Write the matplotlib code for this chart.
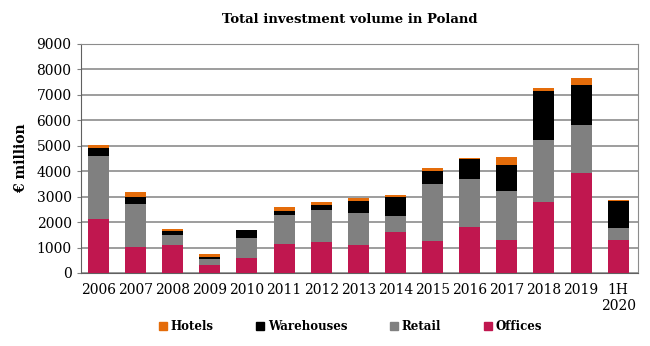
import numpy as np
import matplotlib.pyplot as plt
from matplotlib.patches import Patch

years = ['2006', '2007', '2008', '2009', '2010', '2011', '2012', '2013',
         '2014', '2015', '2016', '2017', '2018', '2019', '1H\n2020']
offices = [2130, 1040, 1100, 300, 600, 1140, 1210, 1090, 1630, 1250, 1800, 1300, 2780, 3940, 1300]
retail = [2480, 1690, 380, 260, 770, 1130, 1270, 1250, 610, 2260, 1910, 1910, 2450, 1880, 450]
warehouses = [290, 250, 170, 50, 300, 180, 200, 480, 750, 480, 760, 1020, 1930, 1580, 1070]
hotels = [120, 200, 90, 130, 20, 130, 120, 130, 80, 130, 40, 340, 120, 250, 65]

series = [('Offices', offices, '#C0174F'), ('Retail', retail, '#808080'),
          ('Warehouses', warehouses, '#000000'), ('Hotels', hotels, '#E46C0A')]

plt.rcParams['font.family'] = ['DejaVu Serif']

fig = plt.figure(figsize=(6.5, 3.46), dpi=100)
ax = fig.add_axes([0.124, 0.211, 0.857, 0.662])

x = np.arange(len(years))
bottom = np.zeros(len(years))
for name, vals, col in series:
    ax.bar(x, vals, 0.565, bottom=bottom, color=col, zorder=3)
    bottom += np.array(vals)

ax.set_xlim(-0.48, 14.525)
ax.set_ylim(0, 9000)
ax.set_yticks(range(0, 9001, 1000))
ax.set_xticks(x)
ax.set_xticklabels(years, fontsize=10)
ax.tick_params(axis='y', labelsize=10, length=3, color='#808080')
ax.tick_params(axis='x', length=0, pad=7)
ax.grid(axis='y', color='#8c8c8c', linewidth=1.2, zorder=0)
for s in ['top', 'right']:
    ax.spines[s].set_color('#8c8c8c')
for s in ['left', 'bottom']:
    ax.spines[s].set_color('#606060')
ax.set_ylabel('€ million', fontsize=10, fontweight='bold', labelpad=6)

fig.text(0.538, 0.945, 'Total investment volume in Poland', ha='center', va='center',
         fontsize=9.5, fontweight='bold')

handles = [Patch(color=c, label=n) for n, v, c in series[::-1]]
fig.legend(handles=handles, loc='center', bbox_to_anchor=(0.539, 0.055), ncol=4,
           frameon=False, prop={'size': 8.5, 'weight': 'bold'}, handlelength=0.7,
           handleheight=0.7, handletextpad=0.3, columnspacing=3.6)

fig.savefig('out.png', dpi=100)
